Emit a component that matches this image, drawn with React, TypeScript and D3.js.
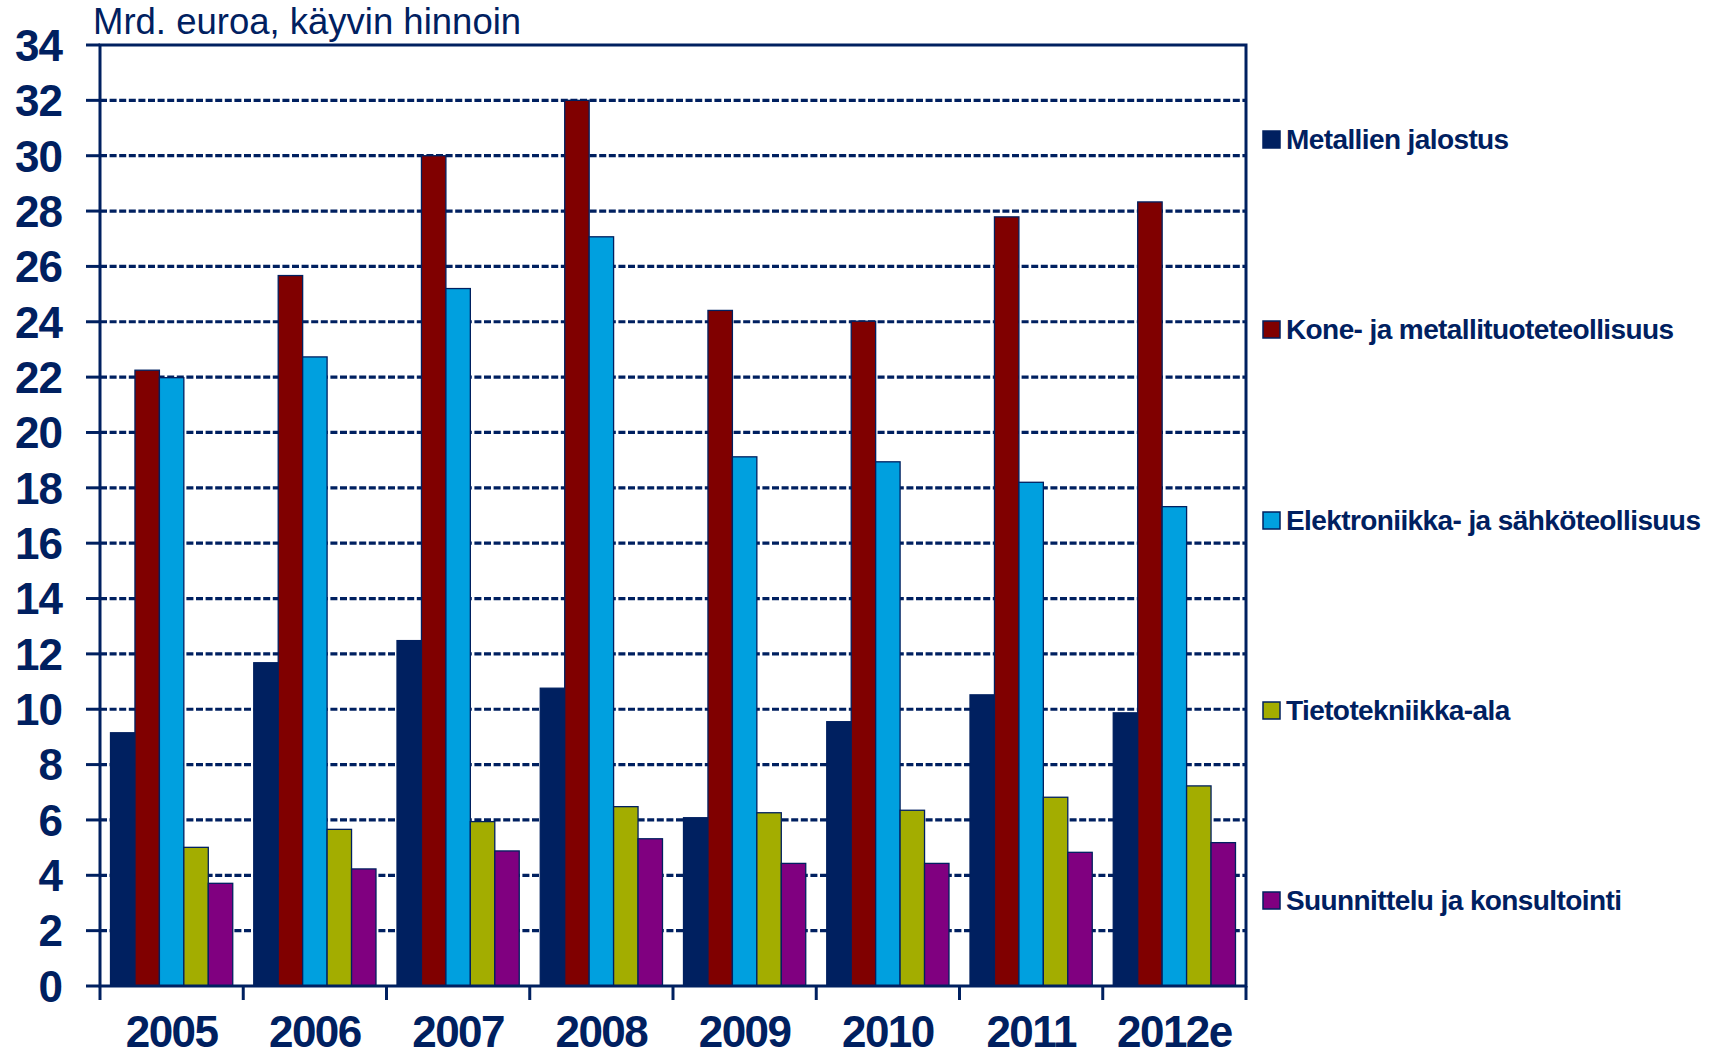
import React, { useRef, useEffect } from 'react';
import * as d3 from 'd3';

const years = ['2005', '2006', '2007', '2008', '2009', '2010', '2011', '2012e'];
const seriesNames = [
    'Metallien jalostus',
    'Kone- ja metallituoteteollisuus',
    'Elektroniikka- ja sähköteollisuus',
    'Tietotekniikka-ala',
    'Suunnittelu ja konsultointi',
];
const metallienJalostus = [9.15, 11.68, 12.48, 10.76, 6.08, 9.55, 10.52, 9.87];
const koneJaMetalli = [22.25, 25.67, 30.0, 32.0, 24.41, 24.02, 27.79, 28.33];
const elektroniikka = [21.98, 22.73, 25.2, 27.07, 19.12, 18.94, 18.2, 17.32];
const tietotekniikka = [5.01, 5.66, 5.94, 6.48, 6.26, 6.35, 6.82, 7.23];
const suunnittelu = [3.71, 4.23, 4.88, 5.32, 4.43, 4.43, 4.83, 5.18];
const yTicks = [0, 2, 4, 6, 8, 10, 12, 14, 16, 18, 20, 22, 24, 26, 28, 30, 32, 34];
const colors = ['#002060', '#800000', '#00A0DF', '#A3AD00', '#800080'];

const NAVY = '#002060';
const FONT = '"Liberation Sans", Arial, sans-serif';

const App: React.FC = () => {
    const svgRef = useRef<SVGSVGElement | null>(null);

    useEffect(() => {
        const width = 1720;
        const height = 1058;
        const margin = { top: 45, right: 474, bottom: 72, left: 100 };
        const innerWidth = width - margin.left - margin.right;
        const innerHeight = height - margin.top - margin.bottom;

        const svg = d3.select(svgRef.current);
        svg.selectAll('*').remove();
        svg.attr('width', width).attr('height', height);

        const g = svg.append('g').attr('transform', `translate(${margin.left},${margin.top})`);

        const allSeries = [metallienJalostus, koneJaMetalli, elektroniikka, tietotekniikka, suunnittelu];

        // scales
        const x0 = d3.scaleBand().domain(years).range([0, innerWidth]).paddingInner(0).paddingOuter(0);
        const x1 = d3.scaleBand<number>()
            .domain(d3.range(seriesNames.length))
            .range([0, x0.bandwidth()])
            .paddingInner(0)
            .paddingOuter(0.43);
        const y = d3.scaleLinear().domain([0, 34]).range([innerHeight, 0]);

        // dashed gridlines
        g.append('g')
            .selectAll('line')
            .data(yTicks.filter(t => t > 0 && t < 34))
            .enter()
            .append('line')
            .attr('x1', 0)
            .attr('x2', innerWidth)
            .attr('y1', d => y(d))
            .attr('y2', d => y(d))
            .attr('stroke', NAVY)
            .attr('stroke-width', 3.2)
            .attr('stroke-dasharray', '7 2.6');

        // bars
        years.forEach((yr, i) => {
            const grp = g.append('g').attr('transform', `translate(${x0(yr)},0)`);
            allSeries.forEach((vals, s) => {
                grp.append('rect')
                    .attr('x', x1(s) as number)
                    .attr('y', y(vals[i]))
                    .attr('width', x1.bandwidth())
                    .attr('height', innerHeight - y(vals[i]))
                    .attr('fill', colors[s])
                    .attr('stroke', NAVY)
                    .attr('stroke-width', 1.3);
            });
        });

        // frame
        g.append('rect')
            .attr('x', 0)
            .attr('y', 0)
            .attr('width', innerWidth)
            .attr('height', innerHeight)
            .attr('fill', 'none')
            .attr('stroke', NAVY)
            .attr('stroke-width', 3);

        // left ticks + labels
        const yAxis = g.append('g');
        yTicks.forEach(t => {
            yAxis.append('line')
                .attr('x1', -14)
                .attr('x2', 0)
                .attr('y1', y(t))
                .attr('y2', y(t))
                .attr('stroke', NAVY)
                .attr('stroke-width', 3);
            yAxis.append('text')
                .attr('x', -38)
                .attr('y', y(t))
                .attr('dy', '0.36em')
                .attr('text-anchor', 'end')
                .attr('font-family', FONT)
                .attr('font-weight', 'bold')
                .attr('font-size', 44)
                .attr('letter-spacing', -1)
                .attr('fill', NAVY)
                .text(String(t));
        });

        // bottom ticks at category boundaries + year labels
        const boundaries = years.map(yr => x0(yr) as number).concat([innerWidth]);
        boundaries.forEach(bx => {
            g.append('line')
                .attr('x1', bx)
                .attr('x2', bx)
                .attr('y1', innerHeight)
                .attr('y2', innerHeight + 14)
                .attr('stroke', NAVY)
                .attr('stroke-width', 3);
        });
        years.forEach(yr => {
            g.append('text')
                .attr('x', (x0(yr) as number) + x0.bandwidth() / 2)
                .attr('y', innerHeight + 61)
                .attr('text-anchor', 'middle')
                .attr('font-family', FONT)
                .attr('font-weight', 'bold')
                .attr('font-size', 44)
                .attr('letter-spacing', -1.5)
                .attr('fill', NAVY)
                .text(yr);
        });

        // unit title
        svg.append('text')
            .attr('x', 93)
            .attr('y', 34)
            .attr('font-family', FONT)
            .attr('font-size', 36.5)
            .attr('fill', NAVY)
            .text('Mrd. euroa, käyvin hinnoin');

        // legend
        const legendY = [139, 329, 520, 710, 900];
        seriesNames.forEach((name, s) => {
            const lg = svg.append('g').attr('transform', `translate(1263,${legendY[s]})`);
            lg.append('rect')
                .attr('x', 0)
                .attr('y', -8)
                .attr('width', 17)
                .attr('height', 17)
                .attr('fill', colors[s])
                .attr('stroke', NAVY)
                .attr('stroke-width', 1.5);
            lg.append('text')
                .attr('x', 23)
                .attr('y', 0)
                .attr('dy', '0.36em')
                .attr('font-family', FONT)
                .attr('font-weight', 'bold')
                .attr('font-size', 28)
                .attr('letter-spacing', -0.6)
                .attr('fill', NAVY)
                .text(name);
        });
    }, []);

    return (
        <svg ref={svgRef} style={{ position: 'absolute', left: 0, top: 0, background: '#fff' }}></svg>
    );
};

export default App;
